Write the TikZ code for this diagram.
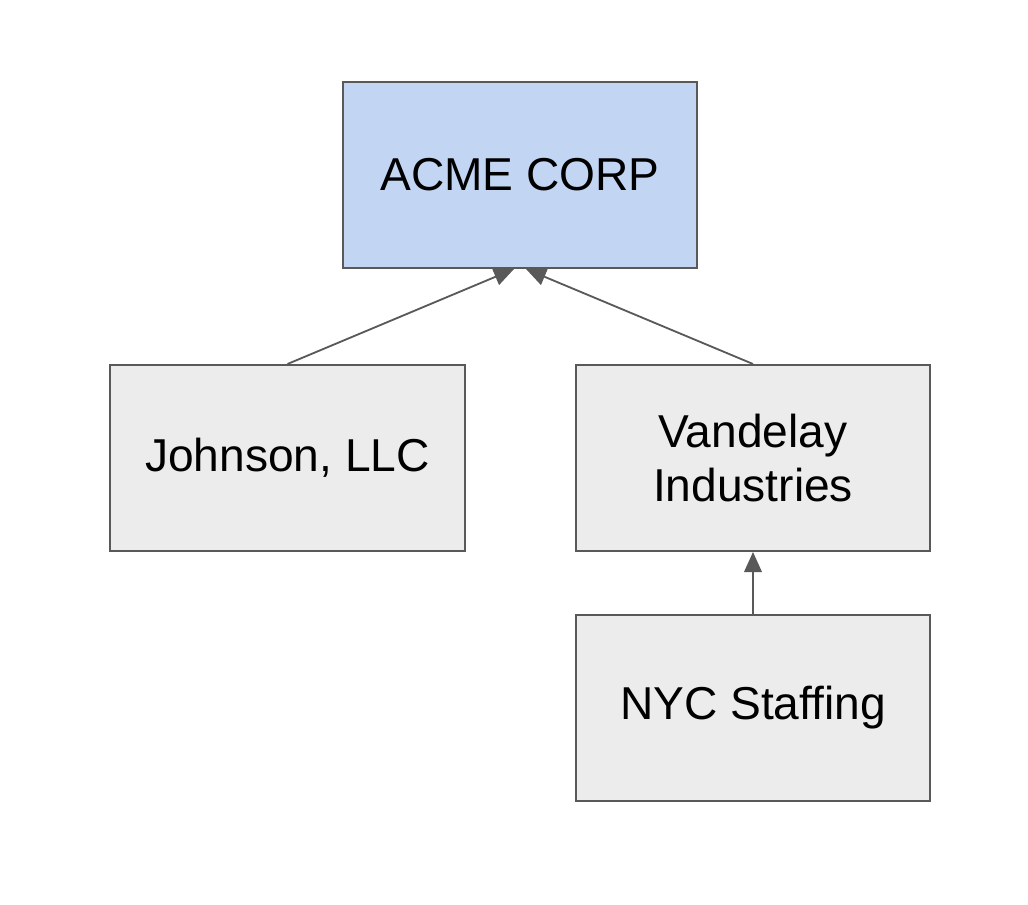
\documentclass[tikz,border=0pt]{standalone}
\usepackage{fontspec}
\setmainfont{Liberation Sans}
\usetikzlibrary{arrows.meta}

\definecolor{corpblue}{RGB}{194,214,244}
\definecolor{subgray}{RGB}{236,236,236}
\definecolor{edgegray}{RGB}{89,89,89}

\begin{document}
\begin{tikzpicture}[x=0.025cm, y=-0.025cm,
    company/.style={draw=edgegray, line width=1.4pt, fill=subgray,
        minimum width=8.85cm, minimum height=4.65cm, align=center,
        font=\fontsize{32.8}{37.7}\selectfont},
    owns/.style={draw=edgegray, line width=1.3pt,
        -{Triangle[length=0.5cm, width=0.44cm]}}]
    % Page size
    \useasboundingbox (0,0) rectangle (1028,904);

    % Companies
    \node[company, fill=corpblue] (acme) at (520,175) {ACME CORP};
    \node[company] (johnson) at (287.5,458) {Johnson, LLC};
    \node[company] (vandelay) at (753,458) {Vandelay\\Industries};
    \node[company] (nyc) at (753,708) {NYC Staffing};

    % Ownership links
    \draw[owns] (johnson.north) -- ([xshift=-0.15cm]acme.south);
    \draw[owns] (vandelay.north) -- ([xshift=0.15cm]acme.south);
    \draw[owns] (nyc.north) -- (vandelay.south);
\end{tikzpicture}
\end{document}
